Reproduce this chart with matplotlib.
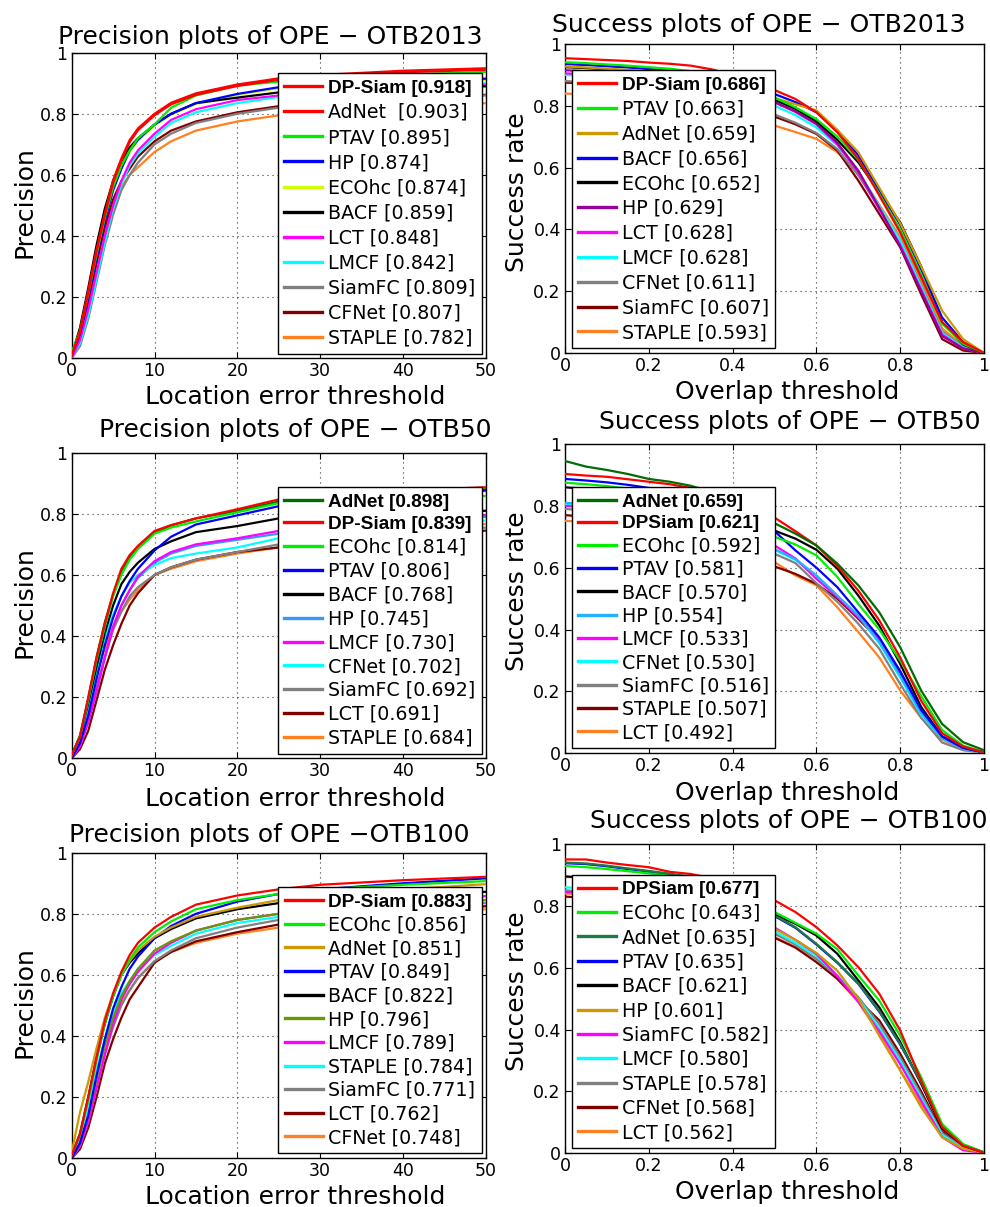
import matplotlib
matplotlib.use('Agg')
import matplotlib.pyplot as plt
from matplotlib.lines import Line2D
from matplotlib.font_manager import FontProperties

plt.rcParams['font.family'] = ['DejaVu Sans']

# ---------------- shared x samples ----------------
PREC_X = [0, 1, 2, 3, 4, 5, 6, 7, 8, 10, 12, 15, 20, 25, 30, 40, 50]
SUCC_X = [0.0, 0.05, 0.1, 0.15, 0.2, 0.25, 0.3, 0.35, 0.4, 0.45, 0.5,
          0.55, 0.6, 0.65, 0.7, 0.75, 0.8, 0.85, 0.9, 0.95, 1.0]
PREC_XTICKS = [0, 10, 20, 30, 40, 50]
PREC_XTICKLABELS = ['0', '10', '20', '30', '40', '50']
SUCC_XTICKS = [0, 0.2, 0.4, 0.6, 0.8, 1.0]
SUCC_XTICKLABELS = ['0', '0.2', '0.4', '0.6', '0.8', '1']
YTICKS = [0, 0.2, 0.4, 0.6, 0.8, 1.0]
YTICKLABELS = ['0', '0.2', '0.4', '0.6', '0.8', '1']

# ---------------- OTB2013 precision ----------------
P13_NAMES = ['DP-Siam', 'AdNet ', 'PTAV', 'HP', 'ECOhc', 'BACF', 'LCT', 'LMCF', 'SiamFC', 'CFNet', 'STAPLE']
P13_SCORES = [0.918, 0.903, 0.895, 0.874, 0.874, 0.859, 0.848, 0.842, 0.809, 0.807, 0.782]
P13_CURVES = [
    [0.01, 0.087, 0.22, 0.355, 0.474, 0.583, 0.654, 0.714, 0.752, 0.80, 0.836, 0.867, 0.896, 0.916, 0.927, 0.941, 0.949],
    [0.01, 0.085, 0.215, 0.35, 0.468, 0.575, 0.647, 0.707, 0.746, 0.795, 0.831, 0.862, 0.891, 0.911, 0.922, 0.936, 0.944],
    [0.02, 0.09, 0.21, 0.34, 0.46, 0.56, 0.63, 0.68, 0.72, 0.765, 0.82, 0.86, 0.893, 0.905, 0.915, 0.928, 0.937],
    [0.01, 0.08, 0.20, 0.33, 0.45, 0.55, 0.62, 0.68, 0.715, 0.765, 0.80, 0.835, 0.865, 0.887, 0.895, 0.905, 0.915],
    [0.01, 0.08, 0.20, 0.33, 0.45, 0.55, 0.62, 0.675, 0.712, 0.762, 0.797, 0.832, 0.862, 0.884, 0.892, 0.902, 0.912],
    [0.01, 0.10, 0.23, 0.37, 0.49, 0.58, 0.645, 0.69, 0.72, 0.765, 0.80, 0.835, 0.853, 0.87, 0.878, 0.885, 0.89],
    [0.0, 0.06, 0.16, 0.28, 0.40, 0.50, 0.58, 0.64, 0.68, 0.735, 0.78, 0.815, 0.845, 0.86, 0.87, 0.885, 0.895],
    [0.0, 0.05, 0.14, 0.26, 0.38, 0.49, 0.57, 0.63, 0.67, 0.725, 0.77, 0.805, 0.835, 0.855, 0.865, 0.88, 0.90],
    [0.0, 0.04, 0.13, 0.25, 0.37, 0.47, 0.55, 0.60, 0.64, 0.70, 0.735, 0.77, 0.80, 0.82, 0.835, 0.85, 0.86],
    [0.01, 0.07, 0.18, 0.31, 0.43, 0.52, 0.58, 0.62, 0.66, 0.71, 0.745, 0.775, 0.805, 0.825, 0.84, 0.855, 0.862],
    [0.01, 0.08, 0.20, 0.32, 0.42, 0.50, 0.56, 0.60, 0.625, 0.675, 0.71, 0.745, 0.775, 0.795, 0.805, 0.82, 0.835],
]

# ---------------- OTB2013 success ----------------
S13_NAMES = ['DP-Siam', 'PTAV', 'AdNet', 'BACF', 'ECOhc', 'HP', 'LCT', 'LMCF', 'CFNet', 'SiamFC', 'STAPLE']
S13_SCORES = [0.686, 0.663, 0.659, 0.656, 0.652, 0.629, 0.628, 0.628, 0.611, 0.607, 0.593]
S13_CURVES = [
    [0.954, 0.951, 0.948, 0.945, 0.940, 0.936, 0.930, 0.918, 0.900, 0.878, 0.851, 0.822, 0.779, 0.714, 0.628, 0.510, 0.390, 0.245, 0.100, 0.035, 0.0],
    [0.941, 0.938, 0.934, 0.930, 0.925, 0.920, 0.912, 0.900, 0.885, 0.860, 0.827, 0.795, 0.757, 0.700, 0.625, 0.515, 0.400, 0.255, 0.095, 0.030, 0.0],
    [0.927, 0.924, 0.920, 0.916, 0.911, 0.905, 0.898, 0.888, 0.872, 0.850, 0.825, 0.805, 0.785, 0.722, 0.650, 0.535, 0.420, 0.280, 0.137, 0.045, 0.0],
    [0.935, 0.932, 0.928, 0.924, 0.919, 0.913, 0.905, 0.893, 0.876, 0.858, 0.838, 0.812, 0.779, 0.720, 0.640, 0.525, 0.415, 0.270, 0.115, 0.035, 0.0],
    [0.925, 0.922, 0.918, 0.914, 0.909, 0.903, 0.896, 0.885, 0.868, 0.845, 0.820, 0.790, 0.750, 0.690, 0.617, 0.520, 0.423, 0.280, 0.100, 0.028, 0.0],
    [0.915, 0.912, 0.908, 0.903, 0.898, 0.892, 0.884, 0.872, 0.855, 0.835, 0.812, 0.782, 0.742, 0.680, 0.590, 0.470, 0.345, 0.200, 0.055, 0.015, 0.0],
    [0.905, 0.902, 0.898, 0.893, 0.888, 0.882, 0.874, 0.862, 0.846, 0.828, 0.811, 0.780, 0.740, 0.675, 0.585, 0.465, 0.350, 0.205, 0.060, 0.015, 0.0],
    [0.900, 0.897, 0.893, 0.888, 0.883, 0.877, 0.868, 0.855, 0.838, 0.818, 0.800, 0.770, 0.730, 0.672, 0.590, 0.475, 0.365, 0.215, 0.065, 0.018, 0.0],
    [0.880, 0.877, 0.873, 0.868, 0.862, 0.855, 0.846, 0.834, 0.816, 0.795, 0.772, 0.745, 0.712, 0.660, 0.575, 0.470, 0.365, 0.220, 0.070, 0.020, 0.0],
    [0.875, 0.872, 0.867, 0.862, 0.856, 0.849, 0.840, 0.828, 0.810, 0.788, 0.765, 0.740, 0.709, 0.655, 0.558, 0.450, 0.342, 0.190, 0.045, 0.008, 0.0],
    [0.840, 0.836, 0.831, 0.825, 0.818, 0.810, 0.800, 0.788, 0.772, 0.755, 0.736, 0.715, 0.693, 0.650, 0.585, 0.480, 0.375, 0.235, 0.080, 0.022, 0.0],
]

# ---------------- OTB50 precision ----------------
P50_NAMES = ['AdNet', 'DP-Siam', 'ECOhc', 'PTAV', 'BACF', 'HP', 'LMCF', 'CFNet', 'SiamFC', 'LCT', 'STAPLE']
P50_SCORES = [0.898, 0.839, 0.814, 0.806, 0.768, 0.745, 0.730, 0.702, 0.692, 0.691, 0.684]
P50_CURVES = [
    [0.01, 0.075, 0.195, 0.33, 0.445, 0.535, 0.61, 0.66, 0.69, 0.738, 0.762, 0.785, 0.81, 0.84, 0.855, 0.87, 0.88],
    [0.01, 0.07, 0.20, 0.33, 0.44, 0.54, 0.62, 0.665, 0.695, 0.744, 0.763, 0.785, 0.815, 0.847, 0.86, 0.876, 0.887],
    [0.01, 0.07, 0.19, 0.32, 0.43, 0.53, 0.60, 0.65, 0.685, 0.735, 0.755, 0.775, 0.805, 0.835, 0.845, 0.855, 0.858],
    [0.0, 0.05, 0.14, 0.26, 0.37, 0.46, 0.53, 0.58, 0.62, 0.68, 0.725, 0.765, 0.795, 0.825, 0.84, 0.86, 0.876],
    [0.01, 0.07, 0.18, 0.30, 0.41, 0.50, 0.57, 0.61, 0.64, 0.685, 0.71, 0.74, 0.76, 0.785, 0.79, 0.80, 0.81],
    [0.0, 0.04, 0.12, 0.22, 0.33, 0.43, 0.50, 0.55, 0.59, 0.64, 0.67, 0.695, 0.715, 0.735, 0.745, 0.765, 0.79],
    [0.0, 0.04, 0.12, 0.22, 0.33, 0.43, 0.50, 0.55, 0.595, 0.645, 0.675, 0.70, 0.72, 0.744, 0.75, 0.77, 0.796],
    [0.0, 0.06, 0.16, 0.28, 0.39, 0.47, 0.53, 0.575, 0.60, 0.632, 0.655, 0.67, 0.69, 0.72, 0.73, 0.75, 0.778],
    [0.0, 0.04, 0.12, 0.23, 0.33, 0.42, 0.48, 0.53, 0.56, 0.60, 0.625, 0.65, 0.675, 0.70, 0.71, 0.73, 0.755],
    [0.0, 0.03, 0.09, 0.19, 0.29, 0.37, 0.44, 0.50, 0.54, 0.60, 0.625, 0.65, 0.675, 0.69, 0.70, 0.72, 0.745],
    [0.0, 0.07, 0.17, 0.28, 0.36, 0.43, 0.48, 0.52, 0.55, 0.60, 0.62, 0.645, 0.67, 0.69, 0.70, 0.73, 0.767],
]

# ---------------- OTB50 success ----------------
S50_NAMES = ['AdNet', 'DPSiam', 'ECOhc', 'PTAV', 'BACF', 'HP', 'LMCF', 'CFNet', 'SiamFC', 'STAPLE', 'LCT']
S50_SCORES = [0.659, 0.621, 0.592, 0.581, 0.570, 0.554, 0.533, 0.530, 0.516, 0.507, 0.492]
S50_CURVES = [
    [0.945, 0.927, 0.916, 0.903, 0.887, 0.878, 0.865, 0.845, 0.815, 0.780, 0.744, 0.710, 0.672, 0.613, 0.543, 0.456, 0.343, 0.203, 0.095, 0.036, 0.010],
    [0.903, 0.898, 0.894, 0.886, 0.878, 0.870, 0.858, 0.840, 0.817, 0.790, 0.762, 0.718, 0.672, 0.606, 0.526, 0.430, 0.310, 0.170, 0.065, 0.022, 0.003],
    [0.875, 0.870, 0.864, 0.856, 0.846, 0.834, 0.818, 0.795, 0.765, 0.732, 0.700, 0.675, 0.640, 0.570, 0.483, 0.400, 0.300, 0.185, 0.075, 0.025, 0.003],
    [0.887, 0.882, 0.876, 0.868, 0.858, 0.846, 0.830, 0.808, 0.780, 0.750, 0.718, 0.656, 0.600, 0.537, 0.456, 0.375, 0.265, 0.140, 0.055, 0.018, 0.003],
    [0.860, 0.855, 0.850, 0.842, 0.832, 0.820, 0.805, 0.785, 0.762, 0.742, 0.720, 0.694, 0.658, 0.597, 0.510, 0.413, 0.289, 0.150, 0.055, 0.018, 0.003],
    [0.810, 0.805, 0.798, 0.790, 0.780, 0.768, 0.752, 0.732, 0.708, 0.682, 0.660, 0.628, 0.575, 0.510, 0.445, 0.360, 0.250, 0.130, 0.050, 0.015, 0.003],
    [0.800, 0.795, 0.788, 0.780, 0.770, 0.758, 0.742, 0.722, 0.700, 0.688, 0.672, 0.630, 0.564, 0.505, 0.440, 0.370, 0.265, 0.135, 0.050, 0.015, 0.003],
    [0.805, 0.800, 0.793, 0.785, 0.775, 0.762, 0.745, 0.722, 0.695, 0.675, 0.658, 0.625, 0.575, 0.510, 0.445, 0.355, 0.245, 0.125, 0.048, 0.015, 0.003],
    [0.790, 0.785, 0.777, 0.768, 0.757, 0.744, 0.728, 0.706, 0.680, 0.660, 0.645, 0.615, 0.550, 0.490, 0.419, 0.338, 0.224, 0.115, 0.035, 0.010, 0.002],
    [0.770, 0.765, 0.757, 0.748, 0.737, 0.724, 0.708, 0.686, 0.660, 0.630, 0.604, 0.580, 0.548, 0.500, 0.435, 0.365, 0.255, 0.130, 0.050, 0.015, 0.003],
    [0.752, 0.747, 0.740, 0.731, 0.720, 0.707, 0.692, 0.672, 0.650, 0.632, 0.618, 0.575, 0.543, 0.472, 0.392, 0.310, 0.203, 0.115, 0.045, 0.012, 0.002],
]

# ---------------- OTB100 precision ----------------
P100_NAMES = ['DP-Siam', 'ECOhc', 'AdNet', 'PTAV', 'BACF', 'HP', 'LMCF', 'STAPLE', 'SiamFC', 'LCT', 'CFNet']
P100_SCORES = [0.883, 0.856, 0.851, 0.849, 0.822, 0.796, 0.789, 0.784, 0.771, 0.762, 0.748]
P100_CURVES = [
    [0.01, 0.08, 0.20, 0.33, 0.45, 0.54, 0.61, 0.665, 0.705, 0.755, 0.79, 0.83, 0.86, 0.88, 0.895, 0.91, 0.921],
    [0.01, 0.08, 0.19, 0.32, 0.44, 0.53, 0.60, 0.65, 0.69, 0.74, 0.775, 0.815, 0.845, 0.865, 0.88, 0.895, 0.907],
    [0.02, 0.15, 0.25, 0.36, 0.46, 0.535, 0.60, 0.645, 0.68, 0.725, 0.755, 0.79, 0.82, 0.845, 0.86, 0.88, 0.897],
    [0.0, 0.05, 0.14, 0.27, 0.39, 0.49, 0.56, 0.62, 0.66, 0.72, 0.76, 0.80, 0.84, 0.865, 0.88, 0.90, 0.916],
    [0.01, 0.08, 0.20, 0.33, 0.44, 0.53, 0.60, 0.64, 0.67, 0.72, 0.75, 0.785, 0.815, 0.835, 0.845, 0.86, 0.872],
    [0.0, 0.05, 0.14, 0.26, 0.37, 0.46, 0.53, 0.58, 0.62, 0.68, 0.71, 0.745, 0.78, 0.80, 0.815, 0.83, 0.845],
    [0.0, 0.04, 0.12, 0.23, 0.34, 0.44, 0.52, 0.57, 0.61, 0.67, 0.705, 0.745, 0.78, 0.80, 0.815, 0.835, 0.858],
    [0.01, 0.07, 0.17, 0.29, 0.39, 0.48, 0.54, 0.58, 0.62, 0.665, 0.695, 0.735, 0.77, 0.79, 0.805, 0.825, 0.845],
    [0.0, 0.04, 0.12, 0.23, 0.34, 0.43, 0.50, 0.55, 0.59, 0.645, 0.68, 0.72, 0.755, 0.78, 0.795, 0.815, 0.835],
    [0.0, 0.03, 0.10, 0.20, 0.31, 0.39, 0.46, 0.52, 0.56, 0.64, 0.675, 0.71, 0.74, 0.765, 0.78, 0.80, 0.825],
    [0.01, 0.07, 0.17, 0.28, 0.37, 0.45, 0.51, 0.55, 0.59, 0.645, 0.675, 0.705, 0.735, 0.755, 0.77, 0.79, 0.815],
]

# ---------------- OTB100 success ----------------
S100_NAMES = ['DPSiam', 'ECOhc', 'AdNet', 'PTAV', 'BACF', 'HP', 'SiamFC', 'LMCF', 'STAPLE', 'CFNet', 'LCT']
S100_SCORES = [0.677, 0.643, 0.635, 0.635, 0.621, 0.601, 0.582, 0.580, 0.578, 0.568, 0.562]
S100_CURVES = [
    [0.950, 0.950, 0.940, 0.932, 0.925, 0.910, 0.903, 0.890, 0.870, 0.845, 0.818, 0.780, 0.731, 0.672, 0.602, 0.516, 0.397, 0.235, 0.085, 0.025, 0.002],
    [0.929, 0.925, 0.919, 0.912, 0.905, 0.897, 0.888, 0.874, 0.855, 0.820, 0.780, 0.745, 0.710, 0.660, 0.575, 0.494, 0.380, 0.246, 0.095, 0.030, 0.003],
    [0.940, 0.937, 0.930, 0.921, 0.913, 0.904, 0.894, 0.880, 0.860, 0.815, 0.769, 0.731, 0.677, 0.618, 0.550, 0.460, 0.354, 0.229, 0.088, 0.028, 0.003],
    [0.938, 0.935, 0.928, 0.919, 0.911, 0.902, 0.892, 0.878, 0.858, 0.813, 0.767, 0.729, 0.675, 0.616, 0.548, 0.458, 0.352, 0.227, 0.086, 0.027, 0.003],
    [0.895, 0.892, 0.886, 0.879, 0.871, 0.862, 0.852, 0.838, 0.820, 0.797, 0.772, 0.742, 0.704, 0.645, 0.559, 0.472, 0.360, 0.225, 0.080, 0.025, 0.002],
    [0.894, 0.890, 0.883, 0.874, 0.864, 0.852, 0.838, 0.820, 0.795, 0.762, 0.726, 0.690, 0.648, 0.590, 0.500, 0.380, 0.268, 0.149, 0.052, 0.015, 0.002],
    [0.845, 0.842, 0.836, 0.828, 0.820, 0.810, 0.798, 0.782, 0.762, 0.745, 0.730, 0.690, 0.645, 0.573, 0.490, 0.395, 0.288, 0.170, 0.052, 0.010, 0.001],
    [0.860, 0.856, 0.850, 0.842, 0.833, 0.822, 0.808, 0.790, 0.768, 0.742, 0.718, 0.680, 0.638, 0.575, 0.500, 0.405, 0.300, 0.180, 0.060, 0.015, 0.002],
    [0.850, 0.846, 0.840, 0.832, 0.823, 0.812, 0.798, 0.780, 0.757, 0.735, 0.710, 0.675, 0.628, 0.573, 0.505, 0.418, 0.310, 0.190, 0.065, 0.020, 0.002],
    [0.830, 0.826, 0.820, 0.812, 0.803, 0.792, 0.779, 0.762, 0.741, 0.720, 0.697, 0.665, 0.618, 0.564, 0.495, 0.430, 0.322, 0.200, 0.070, 0.020, 0.002],
    [0.840, 0.836, 0.829, 0.820, 0.810, 0.798, 0.784, 0.767, 0.745, 0.722, 0.699, 0.667, 0.629, 0.564, 0.489, 0.386, 0.268, 0.160, 0.060, 0.015, 0.002],
]

# ---------------- styles ----------------
RED, GREEN, BLUE, BLACK = '#ff0000', '#00ee00', '#0000ff', '#000000'
MAG, CYAN, GRAY, DRED, ORANGE = '#ff00ff', '#00ffff', '#808080', '#800000', '#ff8020'
GOLD, PURPLE, DGREEN, LBLUE, OLIVE, YGREEN = '#cc9900', '#990099', '#006d00', '#3399ff', '#669900', '#ccff00'

P13_COLORS = [RED, RED, GREEN, BLUE, YGREEN, BLACK, MAG, CYAN, GRAY, DRED, ORANGE]
S13_COLORS = [RED, GREEN, GOLD, BLUE, BLACK, PURPLE, MAG, CYAN, GRAY, DRED, ORANGE]
P50_COLORS = [DGREEN, RED, GREEN, BLUE, BLACK, LBLUE, MAG, CYAN, GRAY, DRED, ORANGE]
S50_COLORS = [DGREEN, RED, GREEN, BLUE, BLACK, '#22b0ff', MAG, CYAN, GRAY, DRED, ORANGE]
P100_COLORS = [RED, GREEN, GOLD, BLUE, BLACK, OLIVE, MAG, CYAN, GRAY, DRED, ORANGE]
S100_COLORS = [RED, GREEN, '#1f7a45', BLUE, BLACK, GOLD, MAG, CYAN, GRAY, DRED, ORANGE]

LEG_FS = 13.7
BOLD_FONT = FontProperties(family=['Liberation Sans', 'DejaVu Sans'], weight='bold', size=LEG_FS)

fig = plt.figure(figsize=(9.9, 12.07), dpi=100)

W, H = 990.0, 1207.0


def make_axes(left, top, right, bottom):
    return fig.add_axes([left / W, 1 - bottom / H, (right - left) / W, (bottom - top) / H])


def panel(ax, xs, names, scores, curves, colors, nbold, under, title, tpos,
          xlabel, xlpos, ylabel, ylpos, leg_loc, leg_anchor, lspace,
          xlim, xticks, xticklabels):
    n = len(names)
    for i in reversed(range(n)):
        z = 1.5 if names[i].strip() in under else 2 + (n - i)
        ax.plot(xs, curves[i], color=colors[i], lw=1.6, zorder=z, solid_joinstyle='round')
    ax.set_xlim(*xlim)
    ax.set_ylim(0, 1)
    ax.set_xticks(xticks)
    ax.set_xticklabels(xticklabels)
    ax.set_yticks(YTICKS)
    ax.set_yticklabels(YTICKLABELS)
    ax.tick_params(direction='in', length=4, width=0.8, labelsize=12.5, pad=3,
                   top=True, right=True)
    ax.grid(True, linestyle=(0, (1, 3.5)), color='#333333', lw=0.8)
    for s in ax.spines.values():
        s.set_linewidth(1.0)
    ax.text(tpos[0], tpos[1], title, transform=ax.transAxes, ha='center',
            va='baseline', fontsize=18)
    ax.text(xlpos[0], xlpos[1], xlabel, transform=ax.transAxes, ha='center',
            va='baseline', fontsize=18)
    ax.text(ylpos[0], ylpos[1], ylabel, transform=ax.transAxes, ha='center',
            va='baseline', rotation=90, rotation_mode='anchor', fontsize=18)
    handles = [Line2D([0], [0], color=c, lw=2.4) for c in colors]
    labels = ['%s [%.3f]' % (nm, sc) for nm, sc in zip(names, scores)]
    leg = ax.legend(handles, labels, loc=leg_loc, bbox_to_anchor=leg_anchor,
                    borderaxespad=0, fontsize=LEG_FS, labelspacing=lspace,
                    handlelength=2.0, handletextpad=0.3, borderpad=0.33,
                    fancybox=False, framealpha=1, edgecolor='black')
    leg.get_frame().set_linewidth(1.0)
    leg.set_zorder(30)
    for i, t in enumerate(leg.get_texts()):
        if i < nbold:
            t.set_fontproperties(BOLD_FONT)


ax1 = make_axes(71.7, 52.7, 485.7, 358.3)
panel(ax1, PREC_X, P13_NAMES, P13_SCORES, P13_CURVES, P13_COLORS, 1, ['ECOhc'],
      'Precision plots of OPE \u2212 OTB2013', (0.479, 1.030),
      'Location error threshold', (0.539, -0.150), 'Precision', (-0.097, 0.512),
      'lower right', (0.990, 0.014), 0.32, (0, 50), PREC_XTICKS, PREC_XTICKLABELS)

ax2 = make_axes(565, 44, 984, 353)
panel(ax2, SUCC_X, S13_NAMES, S13_SCORES, S13_CURVES, S13_COLORS, 1, [],
      'Success plots of OPE \u2212 OTB2013', (0.463, 1.040),
      'Overlap threshold', (0.531, -0.150), 'Success rate', (-0.097, 0.522),
      'lower left', (0.016, 0.015), 0.307, (0, 1), SUCC_XTICKS, SUCC_XTICKLABELS)

ax3 = make_axes(71.7, 452.7, 485.7, 758.3)
panel(ax3, PREC_X, P50_NAMES, P50_SCORES, P50_CURVES, P50_COLORS, 2, ['AdNet', 'HP'],
      'Precision plots of OPE \u2212 OTB50', (0.539, 1.052),
      'Location error threshold', (0.539, -0.156), 'Precision', (-0.097, 0.512),
      'lower right', (0.990, 0.014), 0.257, (0, 50), PREC_XTICKS, PREC_XTICKLABELS)

ax4 = make_axes(565, 444, 984, 753.3)
panel(ax4, SUCC_X, S50_NAMES, S50_SCORES, S50_CURVES, S50_COLORS, 2, [],
      'Success plots of OPE \u2212 OTB50', (0.537, 1.048),
      'Overlap threshold', (0.531, -0.150), 'Success rate', (-0.097, 0.523),
      'lower left', (0.016, 0.016), 0.227, (0, 1), SUCC_XTICKS, SUCC_XTICKLABELS)

ax5 = make_axes(71.7, 852.7, 485.7, 1158.3)
panel(ax5, PREC_X, P100_NAMES, P100_SCORES, P100_CURVES, P100_COLORS, 1, [],
      'Precision plots of OPE \u2212OTB100', (0.477, 1.036),
      'Location error threshold', (0.539, -0.148), 'Precision', (-0.097, 0.510),
      'lower right', (0.990, 0.016), 0.243, (0, 50), PREC_XTICKS, PREC_XTICKLABELS)

ax6 = make_axes(565, 844, 984, 1153.3)
panel(ax6, SUCC_X, S100_NAMES, S100_SCORES, S100_CURVES, S100_COLORS, 1, ['PTAV'],
      'Success plots of OPE \u2212 OTB100', (0.535, 1.051),
      'Overlap threshold', (0.531, -0.148), 'Success rate', (-0.097, 0.523),
      'lower left', (0.016, 0.016), 0.282, (0, 1), SUCC_XTICKS, SUCC_XTICKLABELS)

fig.savefig('out.png', dpi=100)
